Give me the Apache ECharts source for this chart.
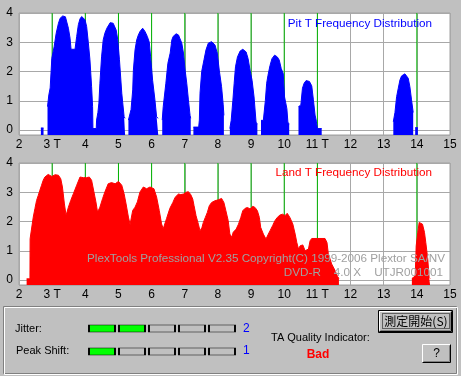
<!DOCTYPE html>
<html lang="en">
<head>
<meta charset="UTF-8" />
<title>PlexTools TA</title>
<script src="https://cdn.jsdelivr.net/npm/echarts@6/dist/echarts.min.js"></script>
<style>
* { margin: 0; padding: 0; }
html, body { width: 461px; height: 376px; background: #c0c0c0; overflow: hidden; }
</style>
</head>
<body>
<div id="main" style="width:461px;height:376px;"></div>
<script type="text/javascript">
// [T, count]  ('-' breaks the curve between two humps)
var pitCounts = [
	[2.66, 0.07], [2.74, 0.07], [2.8, '-'],
	[2.86, 0.8], [2.9, 1.2], [2.94, 1.44], [2.99, 2.45], [3.06, 2.85], [3.12, 3.3], [3.19, 3.65], [3.24, 3.82], [3.32, 3.9], [3.4, 3.87], [3.44, 3.82], [3.49, 3.48], [3.54, 3.14], [3.57, 2.76], [3.69, 2.76], [3.74, 3.2], [3.79, 3.6], [3.84, 3.8], [3.89, 3.88], [3.94, 3.85], [3.99, 3.77], [4.04, 3.54], [4.09, 3.0], [4.14, 2.4], [4.19, 1.48], [4.22, 0.8], [4.23, 0.05], [4.33, 0.05],
	[4.34, 0.34], [4.38, 0.6], [4.41, 0.92], [4.44, 1.6], [4.49, 2.5], [4.54, 3.08], [4.59, 3.31], [4.65, 3.48], [4.75, 3.67], [4.84, 3.65], [4.93, 3.42], [4.98, 3.08], [5.03, 2.4], [5.1, 1.26], [5.17, 0.46], [5.2, 0.4], [5.25, '-'],
	[5.3, 0.34], [5.38, 0.7], [5.43, 1.37], [5.45, 2.05], [5.5, 2.74], [5.55, 3.08], [5.6, 3.25], [5.65, 3.37], [5.73, 3.48], [5.8, 3.37], [5.87, 3.2], [5.93, 3.0], [5.97, 2.5], [6.03, 1.7], [6.1, 1.03], [6.15, 0.45], [6.2, 0.4], [6.25, '-'],
	[6.32, 0.34], [6.35, 0.8], [6.43, 1.6], [6.49, 2.28], [6.56, 2.63], [6.61, 3.08], [6.65, 3.2], [6.74, 3.29], [6.81, 3.25], [6.91, 2.97], [6.96, 2.63], [7.01, 2.05], [7.06, 1.6], [7.11, 1.03], [7.16, 0.5], [7.18, 0.4], [7.22, '-'],
	[7.26, 0.1], [7.42, 0.1], [7.44, 0.34], [7.46, 1.26], [7.51, 2.0], [7.58, 2.4], [7.64, 2.74], [7.71, 2.97], [7.81, 3.02], [7.91, 2.91], [7.98, 2.63], [8.04, 2.05], [8.11, 1.48], [8.16, 0.86], [8.18, 0.5], [8.27, '-'],
	[8.36, 0.05], [8.4, 0.33], [8.45, 1.0], [8.49, 1.6], [8.53, 2.16], [8.59, 2.5], [8.67, 2.7], [8.75, 2.76], [8.85, 2.67], [8.91, 2.44], [8.97, 2.04], [9.03, 1.7], [9.09, 1.13], [9.15, 0.27], [9.19, 0.2], [9.25, '-'],
	[9.3, 0.33], [9.37, 0.33], [9.43, 1.0], [9.47, 1.6], [9.51, 1.87], [9.57, 2.2], [9.63, 2.44], [9.71, 2.56], [9.79, 2.5], [9.85, 2.39], [9.91, 2.1], [9.97, 1.93], [10.01, 1.13], [10.08, 0.73], [10.11, 0.27], [10.15, 0.2], [10.3, '-'],
	[10.43, 0.8], [10.5, 0.85], [10.55, 1.43], [10.6, 1.6], [10.66, 1.69], [10.76, 1.66], [10.83, 1.51], [10.88, 1.03], [10.93, 0.51], [10.97, 0.3], [11.0, 0.05], [11.13, 0.05], [12, '-'],
	[13.29, 0.28], [13.34, 0.6], [13.39, 1.14], [13.44, 1.43], [13.49, 1.71], [13.54, 1.85], [13.64, 1.92], [13.74, 1.77], [13.79, 1.48], [13.84, 1.03], [13.89, 0.6], [13.92, '-'],
	[13.95, 0.08], [14.03, 0.08]
];
var landCounts = [
	[2.23, 0.04], [2.33, 0.04], [2.335, 1.41], [2.38, 1.41], [2.43, 2.15], [2.48, 2.44], [2.53, 2.72], [2.58, 2.89], [2.63, 3.07], [2.68, 3.24], [2.73, 3.41], [2.78, 3.52], [2.88, 3.61], [2.99, 3.54], [3.09, 3.6], [3.19, 3.58], [3.26, 3.46], [3.31, 3.18], [3.37, 2.6], [3.42, 2.21], [3.44, 2.15],
	[3.49, 2.49], [3.56, 2.72], [3.64, 2.95], [3.74, 3.24], [3.84, 3.52], [3.94, 3.5], [4.04, 3.5], [4.12, 3.52], [4.19, 3.41], [4.26, 3.01], [4.32, 2.67], [4.37, 2.32],
	[4.44, 2.49], [4.52, 2.78], [4.59, 3.01], [4.69, 3.29], [4.79, 3.33], [4.9, 3.29], [5.0, 3.37], [5.1, 3.24], [5.17, 2.95], [5.23, 2.6], [5.3, 2.15], [5.35, 1.9],
	[5.43, 2.38], [5.5, 2.49], [5.57, 2.67], [5.65, 3.01], [5.75, 3.18], [5.85, 3.12], [5.95, 3.18], [6.0, 3.24], [6.07, 3.12], [6.15, 2.84], [6.23, 2.38], [6.3, 1.92], [6.35, 1.75],
	[6.45, 2.1], [6.55, 2.45], [6.64, 2.65], [6.71, 2.83], [6.81, 2.94], [6.88, 2.92], [6.96, 2.94], [7.04, 3.0], [7.11, 3.02], [7.18, 2.92], [7.24, 2.77], [7.28, 2.54], [7.34, 2.2], [7.41, 1.91], [7.46, 1.68],
	[7.52, 1.8], [7.56, 1.97], [7.62, 2.14], [7.68, 2.31], [7.74, 2.54], [7.81, 2.65], [7.91, 2.71], [8.01, 2.74], [8.11, 2.79], [8.18, 2.65], [8.24, 2.37], [8.31, 2.03], [8.36, 1.57], [8.42, 1.46],
	[8.46, 1.63], [8.55, 1.74], [8.62, 1.91], [8.69, 2.14], [8.75, 2.37], [8.82, 2.45], [8.89, 2.48], [8.97, 2.43], [9.05, 2.52], [9.12, 2.48], [9.19, 2.37], [9.25, 2.14], [9.29, 1.8], [9.37, 1.57], [9.45, 1.4],
	[9.52, 1.57], [9.57, 1.68], [9.65, 1.86], [9.72, 2.03], [9.79, 2.14], [9.87, 2.22], [9.95, 2.25], [10.02, 2.2], [10.09, 2.28], [10.17, 2.14], [10.26, 1.91], [10.33, 1.57], [10.38, 1.28], [10.43, 1.06],
	[10.48, 1.17], [10.56, 1.2], [10.63, 1.0], [10.73, 1.06], [10.78, 1.34], [10.83, 1.42], [11.0, 1.42], [11.23, 1.42], [11.29, 1.28], [11.33, 0.9], [11.43, 0.55], [11.53, 0.33], [11.61, 0.12], [11.65, 0.05], [12, '-'],
	[13.85, 0.05], [13.95, 0.14], [13.98, 1.17], [14.03, 1.63], [14.07, 1.97], [14.11, 2.0], [14.17, 1.91], [14.23, 1.63], [14.27, 1.28], [14.33, 0.71], [14.37, 0.09], [14.4, 0.05]
];
var markT = [3, 4, 5, 6, 7, 8, 9, 10, 11, 14]; // green reference lines
var tLabels = ['2', '3 T', '4', '5', '6', '7', '8', '9', '10', '11 T', '12', '13', '14', '15'];
var levelSteps = [1, 2, 3, 4, 5];
var meterRows = ['Jitter:', 'Peak Shift:'];
var meterValues = [2, 1]; // jitter, peak shift
var qualityText = 'Bad';

var FONT = '"Liberation Sans", Arial, sans-serif';
var CJK = '"Noto Sans CJK JP", sans-serif';
var Y_MIN = -0.17, Y_MAX = 4;

function histAxisX(idx) {
	return {
		type: 'value', gridIndex: idx, min: 2, max: 15, interval: 1,
		axisLine: { show: false }, axisTick: { show: false },
		axisLabel: { color: '#000', fontSize: 12, fontFamily: FONT, margin: 4,
			formatter: function (v) { return tLabels[v - 2]; } },
		splitLine: { show: true, lineStyle: { color: '#a8a8a8', width: 1 } }
	};
}
function histAxisY(idx) {
	return {
		type: 'value', gridIndex: idx, min: Y_MIN, max: Y_MAX,
		axisLine: { show: false }, axisTick: { show: false },
		axisLabel: { color: '#000', fontSize: 12, fontFamily: FONT, margin: 6, showMinLabel: false },
		splitLine: { show: true, lineStyle: { color: '#a8a8a8', width: 1 } }
	};
}
// vertical green T markers as one broken line series, layer between grid and histogram
var greenSegs = [];
markT.forEach(function (t) {
	greenSegs.push([t, Y_MIN], [t, Y_MAX], [t, '-']);
});
function greenLines(idx) {
	return {
		type: 'line', xAxisIndex: idx, yAxisIndex: idx, zlevel: 1, silent: true,
		data: greenSegs, showSymbol: false, connectNulls: false, clip: false,
		lineStyle: { color: '#00b400', width: 1 }
	};
}
function hist(idx, data, color) {
	return {
		type: 'line', xAxisIndex: idx, yAxisIndex: idx, data: data, zlevel: 2,
		showSymbol: false, connectNulls: false,
		lineStyle: { color: color, width: 1 },
		areaStyle: { color: color, opacity: 1, origin: 'start' }
	};
}

var meterData = [];
meterValues.forEach(function (val, r) {
	levelSteps.forEach(function (s) {
		meterData.push({ value: [s - 1, r], itemStyle: { color: s <= val ? '#00ff00' : '#c0c0c0' } });
	});
});

function txt(x, y, s, color, font, align) {
	return { type: 'text', zlevel: 3, z: 100, style: { x: x, y: y, text: s, fill: color, font: font, align: align || 'left', verticalAlign: 'middle' } };
}
function pline(points, color) {
	return { type: 'polyline', zlevel: 3, z: 101, shape: { points: points }, style: { fill: 'none', stroke: color, lineWidth: 1 } };
}

var graphics = [
	txt(432, 24, 'Pit T Frequency Distribution', '#0000ff', '11.7px ' + FONT, 'right'),
	txt(432, 173, 'Land T Frequency Distribution', '#ff0000', '11.7px ' + FONT, 'right'),
	txt(445, 259, 'PlexTools Professional V2.35 Copyright(C) 1999-2006 Plextor SA/NV', '#a0a0a0', '11.7px ' + FONT, 'right'),
	txt(443, 273, 'DVD-R    4.0 X    UTJR001001', '#a0a0a0', '11.7px ' + FONT, 'right'),
	// group box (etched)
	{ type: 'rect', zlevel: 3, z: 100, shape: { x: 3.5, y: 306.5, width: 453, height: 67 }, style: { fill: 'none', stroke: '#808080', lineWidth: 1 } },
	{ type: 'rect', zlevel: 3, z: 100, shape: { x: 4.5, y: 307.5, width: 453, height: 67 }, style: { fill: 'none', stroke: '#ffffff', lineWidth: 1 } },
	txt(15, 328.5, meterRows[0], '#000', '11px ' + FONT),
	txt(16, 351, meterRows[1], '#000', '11px ' + FONT),
	txt(243, 328.5, String(meterValues[0]), '#0000ff', '12px ' + FONT),
	txt(243, 351, String(meterValues[1]), '#0000ff', '12px ' + FONT),
	txt(271, 338, 'TA Quality Indicator:', '#000', '11px ' + FONT),
	txt(318, 355, qualityText, '#ff0000', 'bold 12px ' + FONT, 'center'),
	// start button
	{ type: 'rect', zlevel: 3, z: 100, shape: { x: 378.5, y: 310.5, width: 74, height: 22 }, style: { fill: '#c0c0c0', stroke: '#000', lineWidth: 1 } },
	pline([[379.5, 330.5], [379.5, 311.5], [450.5, 311.5]], '#ffffff'),
	pline([[379.5, 331.5], [451.5, 331.5], [451.5, 311.5]], '#000'),
	pline([[380.5, 330.5], [450.5, 330.5], [450.5, 312.5]], '#808080'),
	{ type: 'rect', zlevel: 3, z: 101, shape: { x: 382.5, y: 313.5, width: 67, height: 15 }, style: { fill: 'none', stroke: '#000', lineWidth: 1, lineDash: [1, 1] } },
	txt(416, 321.5, '測定開始(S)', '#000', '12px ' + CJK, 'center'),
	// help button
	{ type: 'rect', zlevel: 3, z: 100, shape: { x: 422.5, y: 344.5, width: 28, height: 18 }, style: { fill: '#c0c0c0', stroke: 'none' } },
	pline([[422.5, 362.5], [422.5, 344.5], [450.5, 344.5]], '#ffffff'),
	pline([[422.5, 362.5], [450.5, 362.5], [450.5, 344.5]], '#000'),
	pline([[423.5, 361.5], [449.5, 361.5], [449.5, 345.5]], '#808080'),
	txt(436.5, 353.5, '?', '#000', '12px ' + FONT, 'center')
];

var option = {
	backgroundColor: '#c0c0c0',
	animation: false,
	grid: [
		{ left: 19, top: 13, width: 431, height: 122, show: true, backgroundColor: '#ffffff', borderColor: '#a0a0a0', borderWidth: 1 },
		{ left: 19, top: 163, width: 431, height: 122, show: true, backgroundColor: '#ffffff', borderColor: '#a0a0a0', borderWidth: 1 },
		{ left: 87, top: 317, width: 150, height: 46 }
	],
	xAxis: [histAxisX(0), histAxisX(1),
		{ type: 'category', gridIndex: 2, data: levelSteps, show: false }],
	yAxis: [histAxisY(0), histAxisY(1),
		{ type: 'category', gridIndex: 2, data: meterRows, inverse: true, show: false }],
	series: [
		greenLines(0),
		greenLines(1),
		hist(0, pitCounts, '#0000ff'),
		hist(1, landCounts, '#ff0000'),
		{
			type: 'scatter', xAxisIndex: 2, yAxisIndex: 2, symbol: 'rect', symbolSize: [26, 7],
			itemStyle: { borderColor: '#000', borderWidth: 1, opacity: 1 },
			data: meterData, silent: true
		}
	],
	graphic: graphics
};

var myChart = echarts.init(document.getElementById('main'));
myChart.setOption(option);
</script>
</body>
</html>
